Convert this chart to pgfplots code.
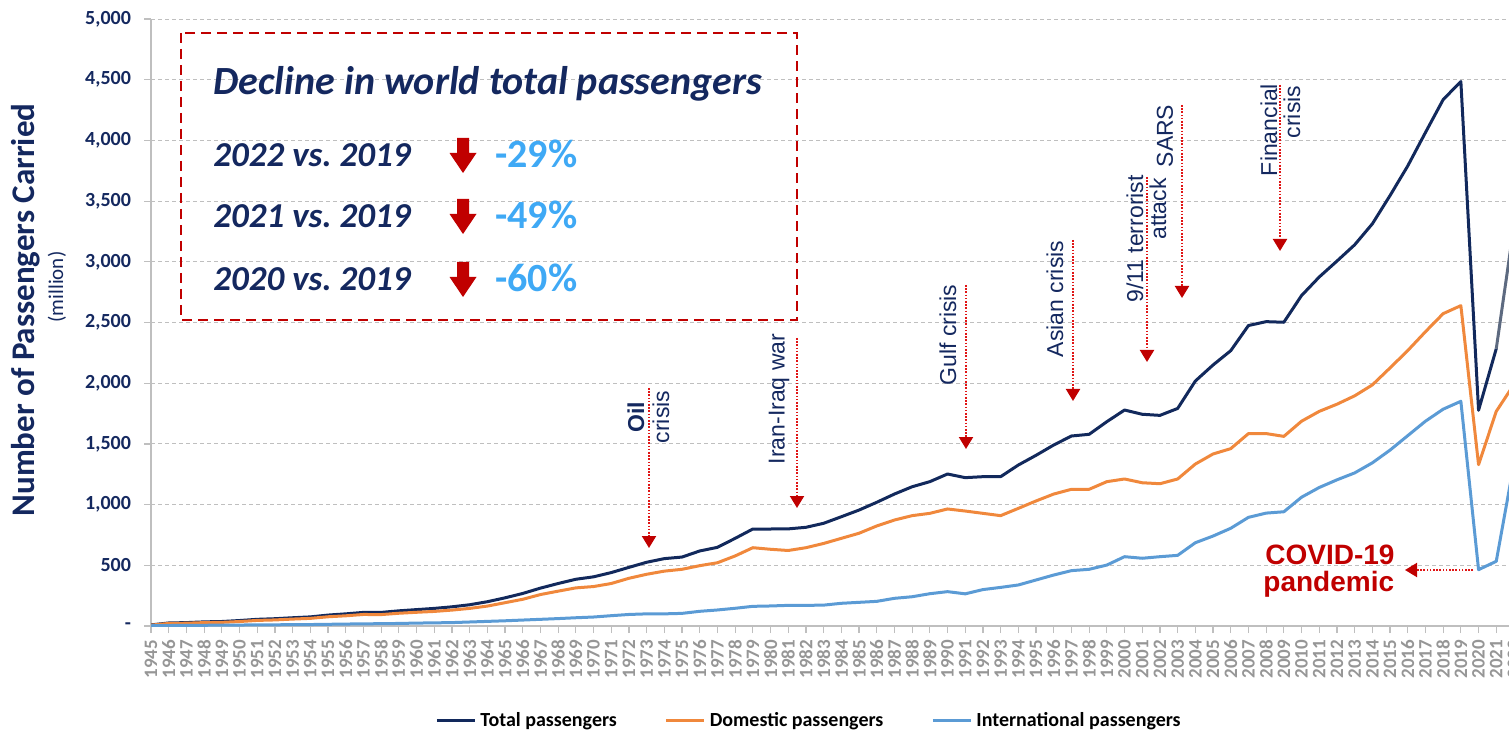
\documentclass[border=0pt]{standalone}
\usepackage{fontspec}
\setmainfont{Carlito}
\newfontfamily\arialfont{Liberation Sans}
\usepackage{pgfplots}
\pgfplotsset{compat=1.18}
\usepackage{pgfplotstable}
\usetikzlibrary{arrows.meta}
\definecolor{navy}{HTML}{14285F}
\definecolor{totc}{HTML}{12295C}
\definecolor{slate}{HTML}{5D6A80}
\definecolor{domc}{HTML}{F0883C}
\definecolor{intc}{HTML}{5B9BD5}
\definecolor{redc}{HTML}{C00000}
\definecolor{dotred}{HTML}{E01515}
\definecolor{pctc}{HTML}{3FA9F5}
\definecolor{gridc}{HTML}{BFBFBF}
\definecolor{yearc}{HTML}{969696}

\pgfplotstableread{
year total dom intl
1945 9 7 2
1946 25 21 4
1947 28 23 5
1948 34 28 6
1949 37 30 7
1950 45 37 8
1951 55 46 9
1952 60 50 10
1953 68 57 11
1954 75 63 12
1955 90 76 14
1956 100 84 16
1957 112 95 18
1958 112 94 19
1959 125 105 21
1960 135 113 24
1961 145 120 26
1962 158 131 28
1963 175 145 33
1964 200 164 38
1965 232 192 43
1966 268 220 49
1967 312 259 55
1968 350 287 61
1969 385 314 68
1970 405 325 74
1971 440 350 85
1972 483 393 95
1973 525 426 100
1974 555 452 100
1975 568 467 104
1976 618 497 121
1977 648 521 132
1978 722 577 146
1979 799 645 162
1980 799 632 165
1981 800 622 170
1982 813 645 170
1983 846 680 172
1984 900 722 187
1985 955 764 195
1986 1019 824 203
1987 1087 873 228
1988 1147 909 241
1989 1189 928 266
1990 1252 964 283
1991 1222 947 265
1992 1230 928 300
1993 1230 909 318
1994 1326 969 338
1995 1406 1030 379
1996 1491 1087 420
1997 1565 1126 456
1998 1579 1126 467
1999 1683 1189 502
2000 1779 1211 571
2001 1744 1180 558
2002 1735 1172 571
2003 1792 1211 582
2004 2018 1334 686
2005 2150 1417 741
2006 2268 1461 805
2007 2475 1585 895
2008 2507 1585 930
2009 2502 1562 941
2010 2722 1687 1061
2011 2875 1768 1141
2012 3006 1827 1204
2013 3140 1896 1261
2014 3313 1986 1344
2015 3546 2126 1449
2016 3790 2269 1568
2017 4065 2424 1687
2018 4336 2573 1786
2019 4485 2639 1851
2020 1777 1329 464
2021 2284 1768 533
2022 3300 1990 1340
}\datatable

\tikzset{
  crisis/.style={dotred, line width=1pt, dash pattern=on 0.8pt off 0.8pt,
    -{Triangle[width=7pt,length=6pt,fill=redc,color=redc]}},
  ann/.style={rotate=90, text=navy, inner sep=0pt, font=\arialfont\fontsize{11.5}{13}\selectfont},
}

\begin{document}
\begin{tikzpicture}
\begin{axis}[
  at={(75.5pt,51.5pt)}, anchor=south west,
  scale only axis, width=685.9pt, height=303.5pt,
  xmin=1945, xmax=2022.5, ymin=0, ymax=5000,
  axis x line*=bottom, axis y line*=left,
  axis line style={gridc, line width=0.8pt, -},
  tick align=outside, major tick length=3.5pt,
  tick style={gridc, line width=0.6pt},
  ymajorgrids, grid style={gridc, dash pattern=on 2pt off 1.5pt, line width=0.5pt},
  ytick={0,500,...,5000},
  yticklabels={-,500,{1,000},{1,500},{2,000},{2,500},{3,000},{3,500},{4,000},{4,500},{5,000}},
  yticklabel style={font=\bfseries\fontsize{10}{12}\selectfont, text=navy, xshift=-3pt},
  xtick={1945,1946,...,2022},
  /pgf/number format/assume math mode=true,
  xticklabel style={rotate=90, anchor=east, font=\bfseries\fontsize{9.5}{11}\selectfont, text=yearc,
     /pgf/number format/1000 sep={}},
  legend style={at={(0.4804,-0.1565)}, anchor=center, draw=none, fill=none,
     legend columns=3, font=\bfseries\fontsize{10}{12}\selectfont,
     /tikz/every even column/.append style={column sep=22pt}},
  legend image code/.code={\draw[#1, line width=1.5pt] (0pt,0pt) -- (19pt,0pt);},
  every axis plot/.append style={line width=1.5pt, line join=round},
]
\addplot[totc, restrict x to domain=1945:2021] table[x=year, y=total] {\datatable};
\addlegendentry{Total passengers}
\addplot[domc] table[x=year, y=dom] {\datatable};
\addlegendentry{Domestic passengers}
\addplot[intc] table[x=year, y=intl] {\datatable};
\addlegendentry{International passengers}
\addplot[slate, forget plot, restrict x to domain=2021:2022] table[x=year, y=total] {\datatable};
\end{axis}

\begin{scope}[x=0.5pt, y=-0.5pt, shift={(0pt,364.5pt)}]
  % y axis title
  \node[rotate=90, text=navy, font=\bfseries\fontsize{16.5}{19}\selectfont] at (26,310) {Number of Passengers Carried};
  \node[rotate=90, text=navy, font=\fontsize{10.5}{12}\selectfont] at (57,287) {(million)};
  % info box
  \draw[redc, line width=1.2pt, dash pattern=on 5pt off 3pt] (181,33) rectangle (797,320);
  \node[anchor=base west, inner sep=0pt, text=navy, font=\bfseries\itshape\fontsize{20}{24}\selectfont] at (213,95) {Decline in world total passengers};
  \foreach \lab/\pct/\base in {2022/29/167, 2021/49/228, 2020/60/291}{
    \node[anchor=base west, inner sep=0pt, text=navy, font=\bfseries\itshape\fontsize{17.5}{20}\selectfont] at (213,\base) {\lab{} vs.\ 2019};
    \node[anchor=base west, inner sep=0pt, text=pctc, font=\bfseries\fontsize{20}{24}\selectfont] at (495,\base+1) {-\pct\%};
    \fill[redc] (457,\base-29) -- (469,\base-29) -- (469,\base-14) -- (476.5,\base-14) -- (463,\base+6) -- (449.5,\base-14) -- (457,\base-14) -- cycle;
  }
  % crisis annotations
  \draw[crisis] (649,388) -- (649,548);
  \node[ann, font=\arialfont\bfseries\fontsize{11.5}{13}\selectfont] at (636,417) {Oil};
  \node[ann] at (661,417) {crisis};
  \draw[crisis] (797,338) -- (797,508);
  \node[ann] at (779,399) {Iran-Iraq war};
  \draw[crisis] (966,285) -- (966,449);
  \node[ann] at (948,335) {Gulf crisis};
  \draw[crisis] (1073,240) -- (1073,401);
  \node[ann] at (1055,299) {Asian crisis};
  \draw[crisis] (1147,177) -- (1147,362);
  \node[ann] at (1135,239) {9/11 terrorist};
  \node[ann] at (1158,209) {attack};
  \draw[crisis] (1182,105) -- (1182,298);
  \node[ann] at (1165,136) {SARS};
  \draw[crisis] (1280,85) -- (1280,251);
  \node[ann] at (1269,130) {Financial};
  \node[ann] at (1292,112) {crisis};
  \draw[crisis] (1473,570) -- (1405,570);
  \node[anchor=base west, inner sep=0pt, text=redc, font=\arialfont\bfseries\fontsize{14}{16}\selectfont] at (1265,564) {COVID-19};
  \node[anchor=base west, inner sep=0pt, text=redc, font=\arialfont\bfseries\fontsize{14}{16}\selectfont] at (1263,591) {pandemic};
\end{scope}
\pgfresetboundingbox
\path[use as bounding box] (0pt,0pt) rectangle (754.5pt,364.5pt);
\end{tikzpicture}
\end{document}
